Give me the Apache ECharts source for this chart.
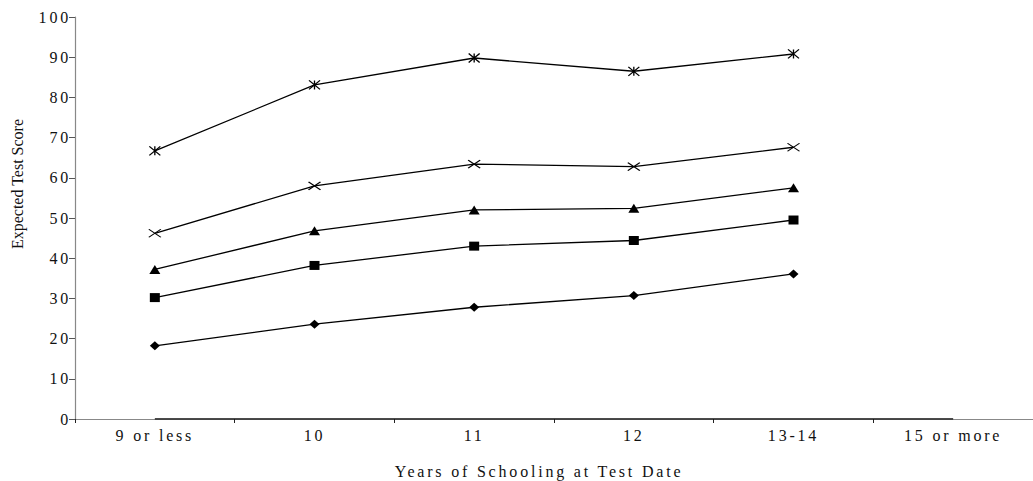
<!DOCTYPE html>
<html>
<head>
<meta charset="utf-8">
<script src="https://cdn.jsdelivr.net/npm/echarts@6/dist/echarts.min.js"></script>
<style>
html,body{margin:0;padding:0;background:#fff;}
#chart{width:1033px;height:481px;}
#chart text{letter-spacing:2.8px;}
</style>
</head>
<body>
<div id="chart"></div>
<script>
const categories = ['9 or less', '10', '11', '12', '13-14', '15 or more'];
const yTicks = [0, 10, 20, 30, 40, 50, 60, 70, 80, 90, 100];
const seriesStar = [66.7, 83.1, 89.8, 86.5, 90.8, null];
const seriesCross = [46.2, 58.0, 63.4, 62.8, 67.6, null];
const seriesTriangle = [37.2, 46.8, 52.0, 52.4, 57.5, null];
const seriesSquare = [30.2, 38.2, 43.0, 44.4, 49.5, null];
const seriesDiamond = [18.2, 23.6, 27.8, 30.7, 36.1, null];
const seriesBase = [0, 0, 0, 0, 0, 0];
const xTitle = 'Years of Schooling at Test Date';
const yTitle = 'Expected Test Score';

const FONT = 'Liberation Serif, serif';
const chart = echarts.init(document.getElementById('chart'), null, {renderer: 'svg'});

function lineSeries(name, data, symbol, size, stroke) {
  return {
    name: name, type: 'line', data: data,
    symbol: symbol, symbolSize: size, showSymbol: true,
    lineStyle: {color: '#000', width: 1.3},
    itemStyle: {color: '#000', borderColor: '#000', borderWidth: stroke},
    connectNulls: false, animation: false, silent: true, z: 3
  };
}

chart.setOption({
  animation: false,
  backgroundColor: '#fff',
  grid: {left: 75, right: -8, top: 17, bottom: 62, containLabel: false},
  xAxis: {
    type: 'category', data: categories, boundaryGap: true,
    axisLine: {show: true, lineStyle: {color: '#888', width: 1.2}},
    axisTick: {show: true, inside: false, length: 4, lineStyle: {color: '#222', width: 1}},
    axisLabel: {show: true, margin: 8, fontFamily: FONT, fontSize: 16, color: '#111'},
    splitLine: {show: false}
  },
  yAxis: {
    type: 'value', min: 0, max: 100, interval: 10,
    axisLine: {show: true, lineStyle: {color: '#888', width: 1.2}},
    axisTick: {show: true, length: 6, lineStyle: {color: '#555', width: 1}},
    axisLabel: {show: true, margin: 4, fontFamily: FONT, fontSize: 16, color: '#111',
      formatter: function (v) { return yTicks.indexOf(v) >= 0 ? String(v) : ''; }},
    splitLine: {show: false}
  },
  graphic: [
    {type: 'text', x: 539, y: 471, silent: true,
      style: {text: xTitle, font: '16px ' + FONT, fill: '#111', align: 'center', verticalAlign: 'middle', textAlign: 'center', textVerticalAlign: 'middle'}},
    {type: 'text', x: 17, y: 184, rotation: Math.PI / 2, silent: true,
      style: {text: yTitle, font: '16px ' + FONT, fill: '#111', align: 'center', verticalAlign: 'middle', textAlign: 'center', textVerticalAlign: 'middle'}}
  ],
  series: [
    {name: 'base', type: 'line', data: seriesBase, symbol: 'none', lineStyle: {color: '#111', width: 1.6}, animation: false, silent: true, z: 2},
    lineSeries('diamond', seriesDiamond, 'diamond', [10, 9], 0),
    lineSeries('square', seriesSquare, 'rect', [10, 9], 0),
    lineSeries('triangle', seriesTriangle, 'triangle', [11, 9], 0),
    lineSeries('cross', seriesCross, 'path://M0,0L10,10M10,0L0,10', [12, 8], 1.2),
    lineSeries('star', seriesStar, 'path://M0,0L10,10M10,0L0,10M5,0L5,10', [11, 9], 1.2)
  ]
});

function fixTitle() {
  document.querySelectorAll('#chart text').forEach(function (t) {
    if (t.textContent === yTitle) t.style.letterSpacing = '0px';
  });
}
chart.on('finished', fixTitle);
fixTitle();
</script>
</body>
</html>
